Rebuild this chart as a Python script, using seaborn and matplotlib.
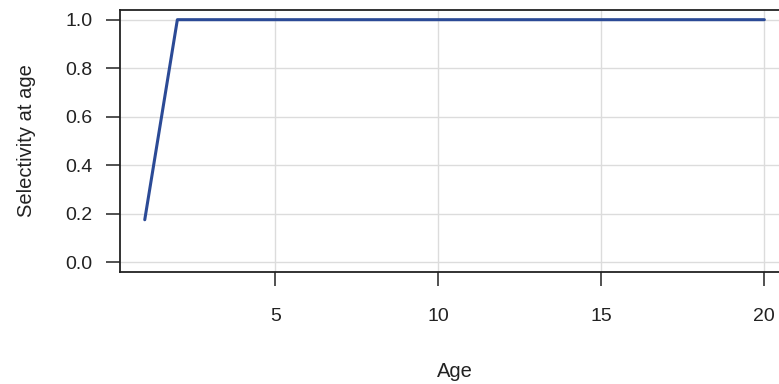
import numpy as np
import pandas as pd
import matplotlib
matplotlib.use("Agg")
import matplotlib.pyplot as plt
import seaborn as sns

# selectivity at age
age = list(range(1, 21))
selectivity = [0.175] + [1.0] * 19
xticks = [5, 10, 15, 20]
yticks = [0.0, 0.2, 0.4, 0.6, 0.8, 1.0]

df = pd.DataFrame({"Age": age, "Selectivity": selectivity})

sns.set_style("white")
plt.rcParams['font.family'] = ['Liberation Sans', 'DejaVu Sans']

fig = plt.figure(figsize=(7.79, 3.84), dpi=100)
ax = fig.add_axes([0.154, 0.292, 0.859, 0.682])

sns.lineplot(data=df, x="Age", y="Selectivity", color="#2b4a96", linewidth=2.2, ax=ax)

ax.set_xlim(0.24, 20.76)
ax.set_ylim(-0.04, 1.04)
ax.set_xticks(xticks)
ax.set_yticks(yticks)
ax.set_yticklabels([f"{v:.1f}" for v in yticks])
ax.grid(True, color="#dcdcdc", linewidth=1.0)
ax.set_axisbelow(True)

for s in ax.spines.values():
    s.set_visible(True)
    s.set_color("#222222")
    s.set_linewidth(1.3)

ax.tick_params(axis="both", direction="out", length=10, width=1.2, color="#333333",
               labelsize=14, labelcolor="#222222", bottom=True, left=True)
ax.tick_params(axis="x", pad=16)
ax.tick_params(axis="y", pad=10)

ax.set_xlabel("Age", fontsize=14.5, color="#222222", labelpad=27)
ax.set_ylabel("Selectivity at age", fontsize=14.5, color="#222222", labelpad=21)

fig.savefig("out.png", dpi=100)
